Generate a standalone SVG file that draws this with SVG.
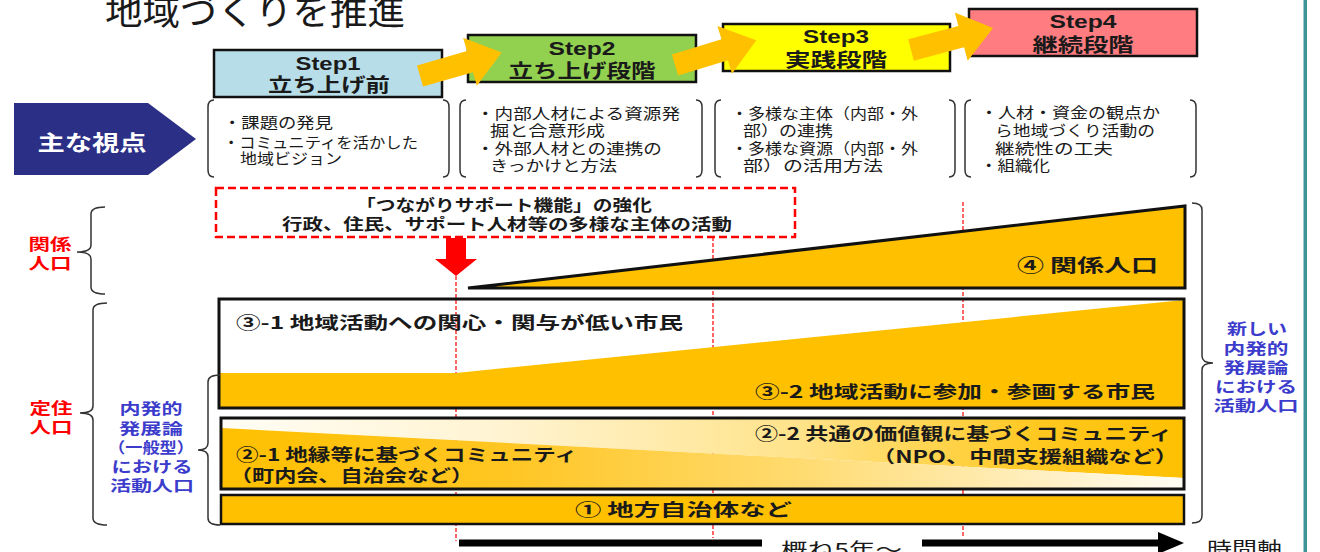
<svg xmlns="http://www.w3.org/2000/svg" width="1320" height="552" viewBox="0 0 1320 552">
<style>
.t{font-family:"Noto Sans CJK JP","Noto Sans",sans-serif;fill:#1a1a1a}
.b{font-weight:bold}
.en{font-family:"Liberation Sans",Arial,sans-serif;font-weight:bold;fill:#1a1a1a}
.box{stroke:#111;stroke-width:2.5}
.par{fill:none;stroke:#333;stroke-width:1.5}
.brace{fill:none;stroke:#333;stroke-width:1.5}
.red{fill:#ff0000;font-weight:bold}
.blue{fill:#3c3ccc;font-weight:bold}
.vl{stroke:#ff0000;stroke-width:1.2;stroke-dasharray:4 2;fill:none}
.orange{fill:#ffc000}
.band{fill:none;stroke:#111;stroke-width:3}
</style>
<defs>
<linearGradient id="gUp" gradientUnits="userSpaceOnUse" x1="221" y1="0" x2="1184" y2="0">
<stop offset="0" stop-color="#fffdf5"/>
<stop offset="0.3" stop-color="#fff3d0"/>
<stop offset="0.6" stop-color="#ffe38a"/>
<stop offset="0.85" stop-color="#ffc820"/>
<stop offset="1" stop-color="#ffc000"/>
</linearGradient>
<linearGradient id="gLo" gradientUnits="userSpaceOnUse" x1="221" y1="0" x2="1184" y2="0">
<stop offset="0" stop-color="#ffc000"/>
<stop offset="0.3" stop-color="#ffc623"/>
<stop offset="0.6" stop-color="#ffdb70"/>
<stop offset="0.85" stop-color="#ffefc0"/>
<stop offset="1" stop-color="#fffdf5"/>
</linearGradient>
<polygon id="oarrow" points="0,-11 52,-11 52,-25 85,0 52,25 52,11 0,11"/>
</defs>
<rect width="1320" height="552" fill="#fff"/>
<rect x="1303.5" y="0" width="3.5" height="552" fill="#3e9599"/>

<g id="title">
<text class="t" x="105" y="25" font-size="37" textLength="300" lengthAdjust="spacingAndGlyphs">地域づくりを推進</text>
</g>

<g id="step1">
<rect class="box" x="214" y="50" width="228" height="47" fill="#b7dee8"/>
<text class="en" x="328" y="70" font-size="19" text-anchor="middle" textLength="65" lengthAdjust="spacingAndGlyphs">Step1</text>
<text class="t b" x="329" y="92" font-size="19" text-anchor="middle" textLength="122" lengthAdjust="spacingAndGlyphs">立ち上げ前</text>
</g>
<g id="step2">
<rect class="box" x="468" y="35" width="228" height="47" fill="#92d050"/>
<text class="en" x="582" y="55" font-size="19" text-anchor="middle" textLength="67" lengthAdjust="spacingAndGlyphs">Step2</text>
<text class="t b" x="582" y="78" font-size="19" text-anchor="middle" textLength="147" lengthAdjust="spacingAndGlyphs">立ち上げ段階</text>
</g>
<g id="step3">
<rect class="box" x="723" y="24" width="227" height="47" fill="#ffff00"/>
<text class="en" x="836" y="43" font-size="19" text-anchor="middle" textLength="66" lengthAdjust="spacingAndGlyphs">Step3</text>
<text class="t b" x="836" y="67" font-size="19" text-anchor="middle" textLength="102" lengthAdjust="spacingAndGlyphs">実践段階</text>
</g>
<g id="step4">
<rect class="box" x="969" y="9" width="228" height="47" fill="#ff7c80"/>
<text class="en" x="1083" y="28" font-size="19" text-anchor="middle" textLength="67" lengthAdjust="spacingAndGlyphs">Step4</text>
<text class="t b" x="1083" y="52" font-size="19" text-anchor="middle" textLength="101" lengthAdjust="spacingAndGlyphs">継続段階</text>
</g>

<g id="viewpoint">
<polygon points="14,103 148,103 196,139 148,175 14,175" fill="#2b2f86"/>
<text class="t b" x="92" y="150" font-size="21" text-anchor="middle" textLength="109" lengthAdjust="spacingAndGlyphs" style="fill:#fff">主な視点</text>
</g>

<g id="view1">
<path class="par" d="M214,100 Q208,100 208,107 L208,170 Q208,177 214,177"/>
<path class="par" d="M443,100 Q449,100 449,107 L449,170 Q449,177 443,177"/>
<text class="t" x="223" y="128" font-size="15" textLength="110" lengthAdjust="spacingAndGlyphs">・課題の発見</text>
<text class="t" x="223" y="148" font-size="15" textLength="195" lengthAdjust="spacingAndGlyphs">・コミュニティを活かした</text>
<text class="t" x="240" y="164" font-size="15" textLength="102" lengthAdjust="spacingAndGlyphs">地域ビジョン</text>
</g>
<g id="view2">
<path class="par" d="M466,100 Q460,100 460,107 L460,170 Q460,177 466,177"/>
<path class="par" d="M696,100 Q702,100 702,107 L702,170 Q702,177 696,177"/>
<text class="t" x="476" y="119" font-size="15" textLength="204" lengthAdjust="spacingAndGlyphs">・内部人材による資源発</text>
<text class="t" x="490" y="136" font-size="15" textLength="115" lengthAdjust="spacingAndGlyphs">掘と合意形成</text>
<text class="t" x="476" y="154" font-size="15" textLength="186" lengthAdjust="spacingAndGlyphs">・外部人材との連携の</text>
<text class="t" x="490" y="171" font-size="15" textLength="127" lengthAdjust="spacingAndGlyphs">きっかけと方法</text>
</g>
<g id="view3">
<path class="par" d="M721,100 Q715,100 715,107 L715,170 Q715,177 721,177"/>
<path class="par" d="M949,100 Q955,100 955,107 L955,170 Q955,177 949,177"/>
<text class="t" x="731" y="119" font-size="15" textLength="187" lengthAdjust="spacingAndGlyphs">・多様な主体（内部・外</text>
<text class="t" x="743" y="136" font-size="15" textLength="90" lengthAdjust="spacingAndGlyphs">部）の連携</text>
<text class="t" x="731" y="154" font-size="15" textLength="187" lengthAdjust="spacingAndGlyphs">・多様な資源（内部・外</text>
<text class="t" x="743" y="171" font-size="15" textLength="140" lengthAdjust="spacingAndGlyphs">部）の活用方法</text>
</g>
<g id="view4">
<path class="par" d="M971,100 Q965,100 965,107 L965,170 Q965,177 971,177"/>
<path class="par" d="M1190,100 Q1196,100 1196,107 L1196,170 Q1196,177 1190,177"/>
<text class="t" x="980" y="118" font-size="15" textLength="180" lengthAdjust="spacingAndGlyphs">・人材・資金の観点か</text>
<text class="t" x="995" y="136" font-size="15" textLength="160" lengthAdjust="spacingAndGlyphs">ら地域づくり活動の</text>
<text class="t" x="995" y="154" font-size="15" textLength="118" lengthAdjust="spacingAndGlyphs">継続性の工夫</text>
<text class="t" x="980" y="171" font-size="15" textLength="70" lengthAdjust="spacingAndGlyphs">・組織化</text>
</g>

<g id="support">
<rect x="216" y="188" width="579" height="49" fill="none" stroke="#ff0000" stroke-width="2.5" stroke-dasharray="8 4"/>
<text class="t b" x="504" y="211" font-size="16" text-anchor="middle" textLength="296" lengthAdjust="spacingAndGlyphs">「つながりサポート機能」の強化</text>
<text class="t b" x="507" y="230" font-size="16" text-anchor="middle" textLength="450" lengthAdjust="spacingAndGlyphs">行政、住民、サポート人材等の多様な主体の活動</text>
</g>

<g id="connectors">
<line class="vl" x1="456" y1="276" x2="456" y2="541"/>
<line class="vl" x1="713" y1="237" x2="713" y2="538"/>
<line class="vl" x1="963" y1="202" x2="963" y2="538"/>
<polygon points="446,238 466,238 466,259 477,259 456,276 435,259 446,259" fill="#ff0000"/>
<use href="#oarrow" class="orange" transform="translate(420,76) rotate(-16)"/>
<use href="#oarrow" class="orange" transform="translate(675,65) rotate(-17)"/>
<use href="#oarrow" class="orange" transform="translate(911,50) rotate(-15)"/>
<line x1="459" y1="543" x2="762" y2="543" stroke="#000" stroke-width="7"/>
<line x1="922" y1="543" x2="1162" y2="543" stroke="#000" stroke-width="7"/>
<polygon points="1158,532 1184,543 1158,554" fill="#000"/>
</g>

<g id="band4">
<polygon points="468,288 1185,206 1185,288" class="orange" stroke="#111" stroke-width="3" stroke-linejoin="miter"/>
<text class="t b" x="1017" y="272" font-size="18" textLength="141" lengthAdjust="spacingAndGlyphs">④ 関係人口</text>
</g>

<g id="band3">
<rect x="219" y="299" width="965" height="109" fill="#fff" fill-opacity="0"/>
<polygon points="219,373 456,373 1184,300 1184,408 219,408" class="orange"/>
<rect class="band" x="219" y="299" width="965" height="109"/>
<text class="t b" x="236" y="329" font-size="17" textLength="447" lengthAdjust="spacingAndGlyphs">③-1 地域活動への関心・関与が低い市民</text>
<text class="t b" x="755" y="398" font-size="17" textLength="400" lengthAdjust="spacingAndGlyphs">③-2 地域活動に参加・参画する市民</text>
</g>

<g id="band2">
<polygon points="221,418 1184,418 1184,478 221,428" fill="url(#gUp)"/>
<polygon points="221,428 1184,478 1184,489 221,489" fill="url(#gLo)"/>
<rect class="band" x="221" y="418" width="963" height="71"/>
<text class="t b" x="236" y="461" font-size="17" textLength="341" lengthAdjust="spacingAndGlyphs">②-1 地縁等に基づくコミュニティ</text>
<text class="t b" x="230" y="482" font-size="17" textLength="243" lengthAdjust="spacingAndGlyphs">（町内会、自治会など）</text>
<text class="t b" x="755" y="440" font-size="17" textLength="417" lengthAdjust="spacingAndGlyphs">②-2 共通の価値観に基づくコミュニティ</text>
<text class="t b" x="872" y="463" font-size="17" textLength="306" lengthAdjust="spacingAndGlyphs">（NPO、中間支援組織など）</text>
</g>

<g id="band1">
<rect x="221" y="495" width="963" height="29" class="orange" stroke="#111" stroke-width="2.5"/>
<text class="t b" x="575" y="516" font-size="17" textLength="217" lengthAdjust="spacingAndGlyphs">① 地方自治体など</text>
</g>

<g id="axis-labels">
<text class="t" x="781" y="557" font-size="19" textLength="121" lengthAdjust="spacingAndGlyphs">概ね5年～</text>
<text class="t" x="1207" y="556" font-size="19" textLength="75" lengthAdjust="spacingAndGlyphs">時間軸</text>
</g>

<g id="kankei-label">
<path class="brace" d="M105,207 Q91,207 91,214 L91,245 Q91,252 77,252 Q91,252 91,259 L91,287 Q91,294 105,294"/>
<text class="t red" x="50" y="250" font-size="16" text-anchor="middle" textLength="43" lengthAdjust="spacingAndGlyphs">関係</text>
<text class="t red" x="50" y="269" font-size="16" text-anchor="middle" textLength="43" lengthAdjust="spacingAndGlyphs">人口</text>
</g>
<g id="teiju-label">
<path class="brace" d="M107,303 Q93,303 93,310 L93,406 Q93,413 80,413 Q93,413 93,420 L93,518 Q93,525 107,525"/>
<text class="t red" x="51" y="414" font-size="16" text-anchor="middle" textLength="43" lengthAdjust="spacingAndGlyphs">定住</text>
<text class="t red" x="51" y="433" font-size="16" text-anchor="middle" textLength="43" lengthAdjust="spacingAndGlyphs">人口</text>
</g>
<g id="naihatsu-label">
<path class="brace" d="M220,375 Q208,375 208,382 L208,443 Q208,450 198,450 Q208,450 208,457 L208,518 Q208,525 220,525"/>
<text class="t blue" x="151" y="414" font-size="15" text-anchor="middle" textLength="63" lengthAdjust="spacingAndGlyphs">内発的</text>
<text class="t blue" x="151" y="434" font-size="15" text-anchor="middle" textLength="64" lengthAdjust="spacingAndGlyphs">発展論</text>
<text class="t blue" x="151" y="453" font-size="15" text-anchor="middle" textLength="86" lengthAdjust="spacingAndGlyphs">（一般型）</text>
<text class="t blue" x="152" y="472" font-size="15" text-anchor="middle" textLength="81" lengthAdjust="spacingAndGlyphs">における</text>
<text class="t blue" x="152" y="491" font-size="15" text-anchor="middle" textLength="84" lengthAdjust="spacingAndGlyphs">活動人口</text>
</g>
<g id="new-naihatsu-label">
<path class="brace" d="M1192,203 Q1202,203 1202,210 L1202,356 Q1202,363 1213,363 Q1202,363 1202,370 L1202,516 Q1202,523 1192,523"/>
<text class="t blue" x="1257" y="334" font-size="15" text-anchor="middle" textLength="60" lengthAdjust="spacingAndGlyphs">新しい</text>
<text class="t blue" x="1256" y="354" font-size="15" text-anchor="middle" textLength="65" lengthAdjust="spacingAndGlyphs">内発的</text>
<text class="t blue" x="1256" y="373" font-size="15" text-anchor="middle" textLength="65" lengthAdjust="spacingAndGlyphs">発展論</text>
<text class="t blue" x="1256" y="392" font-size="15" text-anchor="middle" textLength="82" lengthAdjust="spacingAndGlyphs">における</text>
<text class="t blue" x="1256" y="411" font-size="15" text-anchor="middle" textLength="85" lengthAdjust="spacingAndGlyphs">活動人口</text>
</g>
</svg>
